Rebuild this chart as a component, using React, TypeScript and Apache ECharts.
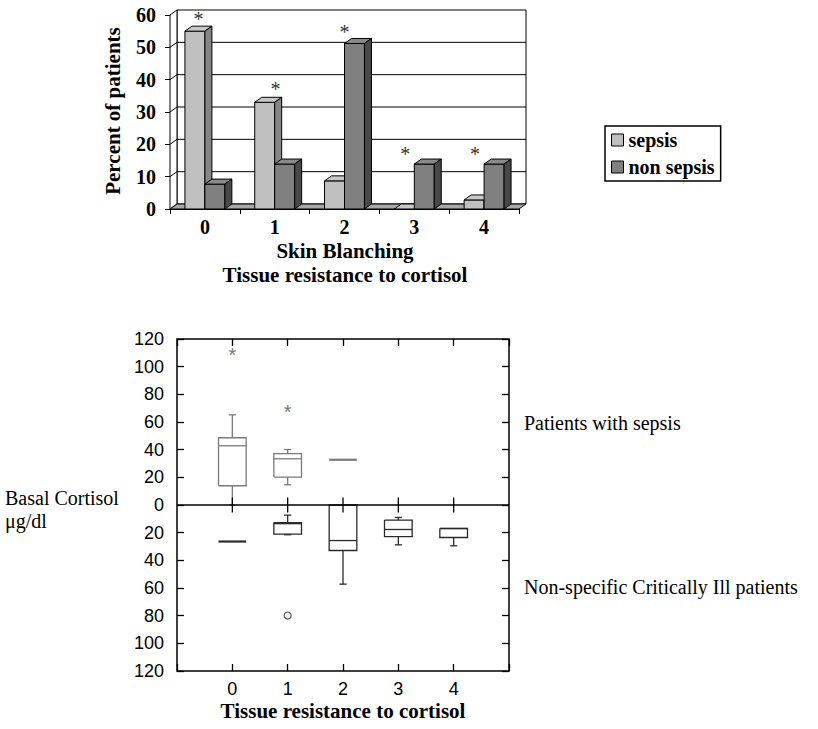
import React, { useEffect, useRef } from "react";
import * as echarts from "echarts";

const SERIF = '"Liberation Serif", "Times New Roman", Times, serif';
const SANS = '"Liberation Sans", Arial, Helvetica, sans-serif';

// ---- Top panel: skin blanching (percent of patients) ----
const skinBlanchingCategories = ["0", "1", "2", "3", "4"];
const sepsisPercent = [55, 33, 8.7, 0, 2.8];
const nonSepsisPercent = [7.7, 13.9, 51.2, 13.9, 13.9];
const percentTicks = [0, 10, 20, 30, 40, 50, 60];
const asteriskCategory = [0, 1, 2, 3, 4];
const asteriskShift = [-0.09, 0.01, 0, -0.13, -0.13];
const asteriskLevel = [60, 38.4, 56, 18.2, 18.2];

// ---- Bottom panel: basal cortisol (µg/dl) by tissue resistance ----
const resistanceLevels = [0, 1, 2, 3, 4];
// [level, min, q1, median, q3, max]
const sepsisCortisol = [
  [0, 0, 13.9, 42.8, 48.6, 65.2],
  [1, 14.6, 20.2, 33.4, 37.2, 40.1],
  [2, 32.7, 32.7, 32.7, 32.7, 32.7],
];
const sepsisOutliers = [
  [0, 112],
  [1, 70.8],
];
const nonSepsisCortisol = [
  [0, 26.4, 26.4, 26.4, 26.4, 26.4],
  [1, 7.3, 12.7, 13.5, 21.0, 21.5],
  [2, 0, 0, 25.7, 32.9, 57.2],
  [3, 9.0, 10.9, 17.7, 22.8, 28.8],
  [4, 17.0, 17.0, 17.0, 23.5, 29.5],
];
const nonSepsisOutliers = [[1, 79.9]];

const DX = 7;
const DY = -5;

function barRenderer(side: number, front: string, top: string, sideC: string) {
  return (params: any, api: any) => {
    const idx = api.value(0);
    const v = api.value(1);
    const bw = api.size([1, 0])[0];
    const w = bw * 0.286;
    const base = api.coord([idx, 0]);
    const cx = base[0];
    const yb = base[1];
    const yt = api.coord([idx, v])[1];
    const x0 = side < 0 ? cx - w : cx;
    const st = { stroke: "#000", lineWidth: 1 };
    return {
      type: "group",
      children: [
        { type: "polygon", shape: { points: [[x0, yt], [x0 + w, yt], [x0 + w, yb], [x0, yb]] }, style: { ...st, fill: front } },
        { type: "polygon", shape: { points: [[x0, yt], [x0 + DX, yt + DY], [x0 + w + DX, yt + DY], [x0 + w, yt]] }, style: { ...st, fill: top } },
        { type: "polygon", shape: { points: [[x0 + w, yt], [x0 + w + DX, yt + DY], [x0 + w + DX, yb + DY], [x0 + w, yb]] }, style: { ...st, fill: sideC } },
      ],
    };
  };
}

function boxRenderer(sign: number, color: string) {
  return (params: any, api: any) => {
    const x = api.value(0);
    const mn = api.value(1);
    const q1 = api.value(2);
    const md = api.value(3);
    const q3 = api.value(4);
    const mx = api.value(5);
    const Y = (v: number) => api.coord([x, sign * v])[1];
    const cx = api.coord([x, 0])[0];
    const half = api.size([0.25, 0])[0];
    const cap = api.size([0.065, 0])[0];
    const l = cx - half;
    const r = cx + half;
    const flat = q1 === q3;
    const st = { stroke: color, lineWidth: flat ? 2.2 : 1.3, fill: "none" };
    const children: any[] = [];
    if (!flat) {
      children.push({
        type: "polyline",
        shape: { points: [[l, Y(q1)], [r, Y(q1)], [r, Y(q3)], [l, Y(q3)], [l, Y(q1)]] },
        style: st,
      });
    }
    children.push({ type: "line", shape: { x1: l, y1: Y(md), x2: r, y2: Y(md) }, style: st });
    if (mx > q3) {
      children.push({ type: "line", shape: { x1: cx, y1: Y(q3), x2: cx, y2: Y(mx) }, style: st });
      children.push({ type: "line", shape: { x1: cx - cap, y1: Y(mx), x2: cx + cap, y2: Y(mx) }, style: st });
    }
    if (mn < q1) {
      children.push({ type: "line", shape: { x1: cx, y1: Y(q1), x2: cx, y2: Y(mn) }, style: st });
      children.push({ type: "line", shape: { x1: cx - cap, y1: Y(mn), x2: cx + cap, y2: Y(mn) }, style: st });
    }
    return { type: "group", children };
  };
}

export default function App() {
  const ref = useRef<HTMLDivElement>(null);

  useEffect(() => {
    if (!ref.current) return;
    const chart = echarts.init(ref.current, null, { renderer: "svg" });

    const tickStyle = { color: "#000", width: 1.3 };

    const option: any = {
      animation: false,
      backgroundColor: "#fff",
      legend: {
        orient: "vertical",
        left: 605,
        top: 126,
        padding: [4, 6, 4, 6],
        itemGap: 7,
        itemWidth: 12,
        itemHeight: 12,
        icon: "rect",
        borderColor: "#000",
        borderWidth: 1.5,
        selectedMode: false,
        textStyle: { fontFamily: SERIF, fontWeight: "bold", fontSize: 20, color: "#000", lineHeight: 20 },
        data: [
          { name: "sepsis", itemStyle: { color: "#c0c0c0", borderColor: "#000", borderWidth: 1 } },
          { name: "non sepsis", itemStyle: { color: "#808080", borderColor: "#000", borderWidth: 1 } },
        ],
      },
      grid: [
        { left: 170, top: 15, width: 349, height: 194 },
        { left: 177, top: 339, width: 332, height: 332, show: true, borderColor: "#000", borderWidth: 1.5, backgroundColor: "transparent" },
      ],
      xAxis: [
        {
          gridIndex: 0,
          type: "category",
          data: skinBlanchingCategories,
          axisLine: { show: true, onZero: false, lineStyle: { color: "#000", width: 1 } },
          axisTick: { show: true, length: 5, lineStyle: { color: "#000" } },
          axisLabel: { margin: 8, fontFamily: SERIF, fontWeight: "bold", fontSize: 20, color: "#000" },
          splitLine: { show: false },
        },
        {
          gridIndex: 1,
          type: "value",
          min: -1,
          max: 5,
          interval: 1,
          position: "bottom",
          axisLine: { show: false, onZero: false },
          axisTick: { show: true, inside: true, length: 7, lineStyle: tickStyle },
          axisLabel: {
            margin: 9,
            fontFamily: SANS,
            fontSize: 18,
            color: "#000",
            formatter: (v: number) => (resistanceLevels.indexOf(v) >= 0 ? String(v) : ""),
          },
          splitLine: { show: false },
        },
        {
          gridIndex: 1,
          type: "value",
          min: -1,
          max: 5,
          interval: 1,
          position: "top",
          axisLine: { show: false, onZero: false },
          axisTick: { show: true, inside: true, length: 7, lineStyle: tickStyle },
          axisLabel: { show: false },
          splitLine: { show: false },
        },
      ],
      yAxis: [
        {
          gridIndex: 0,
          type: "value",
          min: 0,
          max: 60,
          interval: 10,
          axisLine: { show: true, onZero: false, lineStyle: { color: "#000", width: 1 } },
          axisTick: { show: true, length: 5, lineStyle: { color: "#000" } },
          axisLabel: { margin: 14, fontFamily: SERIF, fontWeight: "bold", fontSize: 20, color: "#000" },
          splitLine: { show: false },
        },
        {
          gridIndex: 1,
          type: "value",
          min: -120,
          max: 120,
          interval: 20,
          position: "left",
          axisLine: { show: false, onZero: false },
          axisTick: { show: true, inside: true, length: 7, lineStyle: tickStyle },
          axisLabel: { margin: 13, fontFamily: SANS, fontSize: 18, color: "#000", formatter: (v: number) => String(Math.abs(v)) },
          splitLine: { show: false },
        },
        {
          gridIndex: 1,
          type: "value",
          min: -120,
          max: 120,
          interval: 20,
          position: "right",
          axisLine: { show: false, onZero: false },
          axisTick: { show: true, inside: true, length: 7, lineStyle: tickStyle },
          axisLabel: { show: false },
          splitLine: { show: false },
        },
      ],
      series: [
        {
          type: "custom",
          name: "walls",
          xAxisIndex: 0,
          yAxisIndex: 0,
          silent: true,
          z: 1,
          data: [[0, 0]],
          renderItem: (params: any, api: any) => {
            const bw = api.size([1, 0])[0];
            const xL = api.coord([0, 0])[0] - bw / 2;
            const xR = api.coord([skinBlanchingCategories.length - 1, 0])[0] + bw / 2;
            const top = percentTicks[percentTicks.length - 1];
            const y = (v: number) => api.coord([0, v])[1];
            const st = { stroke: "#000", lineWidth: 1 };
            const children: any[] = [
              {
                type: "polygon",
                shape: { points: [[xL + DX, y(top) + DY], [xR + DX, y(top) + DY], [xR + DX, y(0) + DY], [xL + DX, y(0) + DY]] },
                style: { ...st, fill: "#fff" },
              },
              {
                type: "polygon",
                shape: { points: [[xL, y(top)], [xL + DX, y(top) + DY], [xL + DX, y(0) + DY], [xL, y(0)]] },
                style: { ...st, fill: "#fff" },
              },
            ];
            percentTicks.forEach((v) => {
              if (v > 0 && v < top) {
                children.push({
                  type: "polyline",
                  shape: { points: [[xL, y(v)], [xL + DX, y(v) + DY], [xR + DX, y(v) + DY]] },
                  style: { ...st, fill: "none" },
                });
              }
            });
            children.push({
              type: "polygon",
              shape: { points: [[xL, y(0)], [xL + DX, y(0) + DY], [xR + DX, y(0) + DY], [xR, y(0)]] },
              style: { ...st, fill: "#a8a8a8" },
            });
            return { type: "group", children };
          },
        },
        {
          type: "custom",
          name: "sepsis",
          xAxisIndex: 0,
          yAxisIndex: 0,
          silent: true,
          z: 2,
          itemStyle: { color: "#c0c0c0" },
          data: sepsisPercent.map((v, i) => [i, v]),
          renderItem: barRenderer(-1, "#c0c0c0", "#c8c8c8", "#858585"),
        },
        {
          type: "custom",
          name: "non sepsis",
          xAxisIndex: 0,
          yAxisIndex: 0,
          silent: true,
          z: 3,
          itemStyle: { color: "#808080" },
          data: nonSepsisPercent.map((v, i) => [i, v]),
          renderItem: barRenderer(1, "#808080", "#8a8a8a", "#484848"),
        },
        {
          type: "custom",
          name: "significance",
          xAxisIndex: 0,
          yAxisIndex: 0,
          silent: true,
          z: 4,
          data: asteriskCategory.map((c, i) => [c, asteriskLevel[i], asteriskShift[i]]),
          renderItem: (params: any, api: any) => {
            const bw = api.size([1, 0])[0];
            const p = api.coord([api.value(0), api.value(1)]);
            return {
              type: "text",
              x: p[0] + api.value(2) * bw,
              y: p[1] + 4,
              style: { text: "*", fill: "#333", font: `20px ${SERIF}`, align: "center", verticalAlign: "middle" },
            };
          },
        },
        {
          type: "custom",
          name: "sepsis cortisol",
          xAxisIndex: 1,
          yAxisIndex: 1,
          silent: true,
          z: 3,
          data: sepsisCortisol,
          renderItem: boxRenderer(1, "#7a7a7a"),
        },
        {
          type: "custom",
          name: "non-sepsis cortisol",
          xAxisIndex: 1,
          yAxisIndex: 1,
          silent: true,
          z: 3,
          data: nonSepsisCortisol,
          renderItem: boxRenderer(-1, "#2a2a2a"),
        },
        {
          type: "custom",
          name: "zero line",
          xAxisIndex: 1,
          yAxisIndex: 1,
          silent: true,
          z: 4,
          data: [[0, 0]],
          renderItem: (params: any, api: any) => {
            const a = api.coord([-1, 0]);
            const b = api.coord([5, 0]);
            const st = { stroke: "#000", lineWidth: 1.5 };
            const children: any[] = [{ type: "line", shape: { x1: a[0], y1: a[1], x2: b[0], y2: b[1] }, style: st }];
            resistanceLevels.forEach((lv) => {
              const p = api.coord([lv, 0]);
              children.push({ type: "line", shape: { x1: p[0], y1: p[1] - 7.5, x2: p[0], y2: p[1] + 7.5 }, style: { stroke: "#000", lineWidth: 1.3 } });
            });
            return { type: "group", children };
          },
        },
        {
          type: "custom",
          name: "sepsis outliers",
          xAxisIndex: 1,
          yAxisIndex: 1,
          silent: true,
          z: 4,
          data: sepsisOutliers,
          renderItem: (params: any, api: any) => {
            const p = api.coord([api.value(0), api.value(1)]);
            return {
              type: "text",
              x: p[0],
              y: p[1] + 4.5,
              style: { text: "*", fill: "#7a7a7a", font: `20px ${SANS}`, align: "center", verticalAlign: "middle" },
            };
          },
        },
        {
          type: "scatter",
          name: "non-sepsis outliers",
          xAxisIndex: 1,
          yAxisIndex: 1,
          silent: true,
          z: 4,
          symbol: "circle",
          symbolSize: 7,
          itemStyle: { color: "#fff", borderColor: "#2a2a2a", borderWidth: 1.2 },
          data: nonSepsisOutliers.map((d) => [d[0], -d[1]]),
        },
      ],
      graphic: [
        {
          type: "text",
          x: 113,
          y: 111,
          rotation: Math.PI / 2,
          style: { text: "Percent of patients", font: `bold 21px ${SERIF}`, fill: "#000", align: "center", verticalAlign: "middle" },
        },
        {
          type: "text",
          x: 345,
          y: 251,
          style: { text: "Skin Blanching", font: `bold 21px ${SERIF}`, fill: "#000", align: "center", verticalAlign: "middle" },
        },
        {
          type: "text",
          x: 345,
          y: 275,
          style: { text: "Tissue resistance to cortisol", font: `bold 21px ${SERIF}`, fill: "#000", align: "center", verticalAlign: "middle" },
        },
        {
          type: "text",
          x: 524,
          y: 423,
          style: { text: "Patients with sepsis", font: `20px ${SERIF}`, fill: "#000", align: "left", verticalAlign: "middle" },
        },
        {
          type: "text",
          x: 524,
          y: 587,
          style: { text: "Non-specific Critically Ill patients", font: `20px ${SERIF}`, fill: "#000", align: "left", verticalAlign: "middle" },
        },
        {
          type: "text",
          x: 5,
          y: 498,
          style: { text: "Basal Cortisol", font: `20px ${SERIF}`, fill: "#000", align: "left", verticalAlign: "middle" },
        },
        {
          type: "text",
          x: 5,
          y: 521,
          style: { text: "μg/dl", font: `20px ${SERIF}`, fill: "#000", align: "left", verticalAlign: "middle" },
        },
        {
          type: "text",
          x: 343,
          y: 711,
          style: { text: "Tissue resistance to cortisol", font: `bold 21px ${SERIF}`, fill: "#000", align: "center", verticalAlign: "middle" },
        },
      ],
    };

    chart.setOption(option);
    return () => {
      chart.dispose();
    };
  }, []);

  return (
    <div
      ref={ref}
      style={{ position: "fixed", left: 0, top: 0, width: 818, height: 729, background: "#fff" }}
    />
  );
}
